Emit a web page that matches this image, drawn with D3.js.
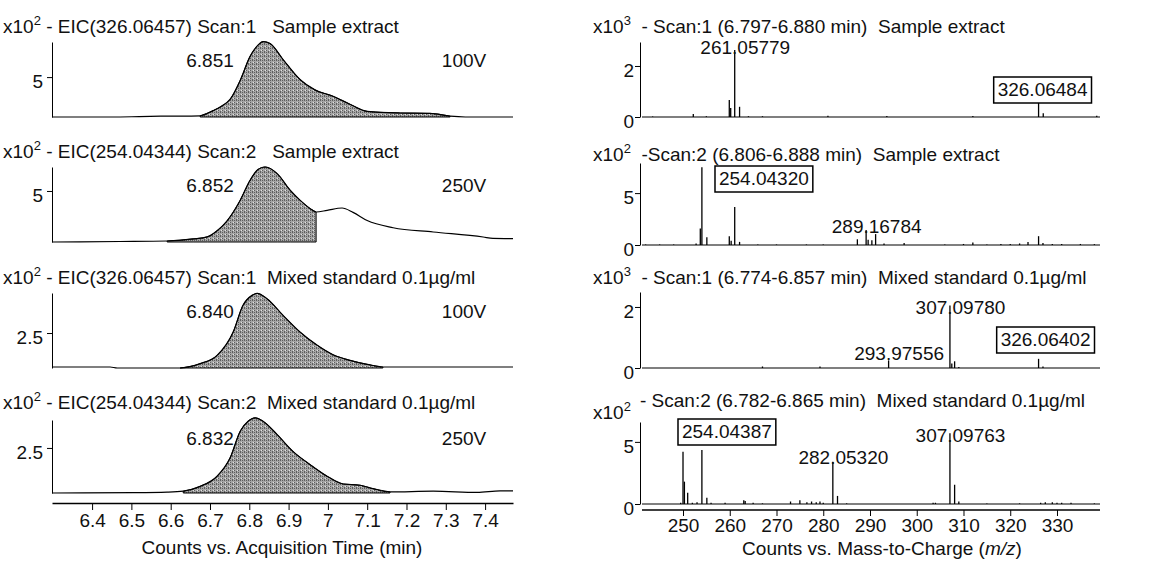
<!DOCTYPE html>
<html>
<head>
<meta charset="utf-8">
<script src="https://cdn.jsdelivr.net/npm/d3@7.9.0/dist/d3.min.js"></script>
<style>
  body { margin: 0; background: #fff; }
  svg text { font-family: "Liberation Sans", Arial, sans-serif; font-size: 19px; fill: #111; white-space: pre; }
</style>
</head>
<body>
<div id="chart"></div>
<script>
// ---- data ----
// EIC traces (counts x10^2) vs acquisition time (min)
const timeTicks = [6.4, 6.5, 6.6, 6.7, 6.8, 6.9, 7.0, 7.1, 7.2, 7.3, 7.4];

const eic1Time = [6.298, 6.45, 6.52, 6.575, 6.675, 6.708, 6.731, 6.751, 6.777, 6.802, 6.822, 6.835, 6.853, 6.886, 6.929, 6.967, 7.013, 7.056, 7.100, 7.184, 7.260, 7.311, 7.35, 7.471];
const eic1Counts = [0, 0, 0.05, 0.1, 0.15, 0.8, 1.4, 2.2, 4.6, 7.6, 9.0, 9.45, 9.2, 7.2, 4.7, 3.4, 2.6, 1.6, 0.7, 0.5, 0.45, 0.1, 0, 0];

const eic2Time = [6.298, 6.471, 6.591, 6.657, 6.693, 6.718, 6.744, 6.777, 6.802, 6.822, 6.840, 6.871, 6.904, 6.929, 6.955, 6.970, 6.998, 7.036, 7.064, 7.100, 7.166, 7.268, 7.395, 7.420, 7.471];
const eic2Counts = [0, 0.05, 0.1, 0.3, 0.5, 1.1, 2.1, 4.1, 6.05, 7.1, 7.35, 6.7, 5.07, 4.1, 3.27, 2.94, 3.1, 3.33, 2.9, 2.1, 1.4, 0.98, 0.49, 0.35, 0.33];

const eic3Time = [6.298, 6.446, 6.464, 6.624, 6.675, 6.718, 6.759, 6.784, 6.807, 6.820, 6.845, 6.886, 6.929, 6.973, 7.013, 7.056, 7.100, 7.140, 7.471];
const eic3Counts = [0.07, 0.07, 0, 0, 0.31, 0.9, 2.57, 4.48, 5.19, 5.33, 4.95, 3.76, 2.57, 1.62, 0.95, 0.55, 0.26, 0.07, 0.07];

const eic4Time = [6.298, 6.504, 6.591, 6.632, 6.675, 6.718, 6.751, 6.777, 6.797, 6.815, 6.835, 6.871, 6.911, 6.955, 6.998, 7.039, 7.082, 7.115, 7.158, 7.268, 7.380, 7.438, 7.471];
const eic4Counts = [0, 0.02, 0.05, 0.1, 0.37, 0.93, 1.94, 3.43, 3.98, 4.17, 3.98, 3.24, 2.31, 1.57, 0.93, 0.5, 0.43, 0.24, 0.06, 0.1, 0.03, 0.12, 0.12];

// integration window (shaded) per EIC
const fillStart = [6.675, 6.591, 6.624, 6.632];
const fillEnd = [7.311, 6.970, 7.140, 7.158];

const eicTitles = [
  " - EIC(326.06457) Scan:1   Sample extract",
  " - EIC(254.04344) Scan:2   Sample extract",
  " - EIC(326.06457) Scan:1  Mixed standard 0.1\u00b5g/ml",
  " - EIC(254.04344) Scan:2  Mixed standard 0.1\u00b5g/ml",
];
const eicRT = ["6.851", "6.852", "6.840", "6.832"];
const eicVoltage = ["100V", "250V", "100V", "250V"];
const eicTick = [5, 5, 2.5, 2.5];

// mass spectra (counts x10^3 or x10^2) vs m/z
const mzTicks = [250, 260, 270, 280, 290, 300, 310, 320, 330];

const ms1Mz = [243.5, 252.2, 255.0, 259.9, 260.2, 261.06, 262.1, 264.0, 267.0, 281.0, 293.6, 312.0, 326.06, 327.06, 338.5];
const ms1Int = [0.02, 0.12, 0.03, 0.67, 0.35, 2.63, 0.4, 0.03, 0.03, 0.05, 0.04, 0.04, 0.98, 0.15, 0.05];

const ms2Mz = [242, 245, 248, 252.8, 253.7, 254.04, 255.1, 259.9, 260.3, 261.06, 262.1, 266, 270, 276.4, 280, 287.3, 289.17, 289.6, 290.4, 291.2, 293, 297.3, 306, 310, 312, 315, 318, 320, 322, 323.8, 326.06, 327, 329, 331, 335, 338];
const ms2Int = [0.05, 0.05, 0.05, 0.15, 1.6, 7.5, 0.75, 0.85, 0.4, 3.65, 0.3, 0.05, 0.05, 0.05, 0.05, 0.55, 1.45, 0.5, 0.45, 1.05, 0.15, 0.2, 0.05, 0.1, 0.25, 0.05, 0.1, 0.1, 0.15, 0.3, 0.85, 0.2, 0.1, 0.1, 0.1, 0.08];

const ms3Mz = [267, 279.3, 293.98, 307.1, 307.5, 308.1, 309, 326.06, 327];
const ms3Int = [0.05, 0.05, 0.25, 2.05, 0.15, 0.22, 0.03, 0.3, 0.05];

const ms4Mz = [249.5, 250.0, 250.3, 251.0, 252, 253, 254.04, 255.1, 256, 259, 263, 263.3, 265, 267, 273, 275, 276.5, 277.5, 278.5, 279.3, 280, 282.05, 283.05, 285, 303.5, 304, 307.1, 308.1, 309, 315, 322, 326.5, 327.5, 329, 330, 331, 333, 338];
const ms4Int = [0.1, 4.2, 1.8, 0.9, 0.1, 0.15, 4.35, 0.5, 0.1, 0.1, 0.3, 0.25, 0.1, 0.05, 0.2, 0.3, 0.15, 0.2, 0.15, 0.2, 0.1, 3.4, 0.65, 0.05, 0.1, 0.1, 5.7, 1.55, 0.2, 0.05, 0.05, 0.1, 0.15, 0.15, 0.1, 0.1, 0.1, 0.05];

const msTitles = [
  "  - Scan:1 (6.797-6.880 min)  Sample extract",
  "  -Scan:2 (6.806-6.888 min)  Sample extract",
  "  - Scan:1 (6.774-6.857 min)  Mixed standard 0.1\u00b5g/ml",
  "- Scan:2 (6.782-6.865 min)  Mixed standard 0.1\u00b5g/ml",
];
const msExp = ["3", "2", "3", "2"];
const msTicks = [[0, 2], [0, 5], [0, 2], [0, 5]];
const ms1Labels = ["261.05779", "326.06484"];
const ms2Labels = ["254.04320", "289.16784"];
const ms3Labels = ["307.09780", "293.97556", "326.06402"];
const ms4Labels = ["254.04387", "282.05320", "307.09763"];
const boxedLabels = ["326.06484", "254.04320", "326.06402", "254.04387"];

// ---- layout ----
const width = 1160, height = 564;
const svg = d3.select("#chart").append("svg")
  .attr("width", width).attr("height", height);

const defs = svg.append("defs");
const pat = defs.append("pattern").attr("id", "shade")
  .attr("width", 4).attr("height", 4).attr("patternUnits", "userSpaceOnUse");
pat.append("rect").attr("width", 4).attr("height", 4).attr("fill", "#a6a6a6");
[[0, 0], [2, 2], [2, 0], [0, 3]].forEach(([x, y]) =>
  pat.append("rect").attr("x", x).attr("y", y).attr("width", 1).attr("height", 1).attr("fill", "#5e5e5e"));
pat.append("rect").attr("x", 1).attr("y", 2).attr("width", 1).attr("height", 1).attr("fill", "#e2e2e2");

// panel geometry: baseline pixel and axis maximum (value at top of y axis)
const eicPanels = [
  { base: 117, top: 42, max: 9.4 },
  { base: 242, top: 167, max: 7.35 },
  { base: 368, top: 293, max: 5.36 },
  { base: 493, top: 420, max: 4.05 },
];
const msPanels = [
  { base: 117, top: 42, max: 2.94 },
  { base: 245, top: 163, max: 7.9 },
  { base: 368, top: 292, max: 2.49 },
  { base: 504, top: 422, max: 6.6 },
];

const xTime = d3.scaleLinear().domain([6.298, 7.471]).range([52, 513]);
const xMz = d3.scaleLinear().domain([240.8, 339.2]).range([640, 1100]);

function title(x, y, exp, rest) {
  const t = svg.append("text").attr("x", x).attr("y", y);
  t.append("tspan").text("x10");
  t.append("tspan").attr("dy", -8).style("font-size", "13px").text(exp);
  t.append("tspan").attr("dy", 8).text(rest);
}

function yAxis(g, y, x, ticks, pad) {
  const axis = d3.axisLeft(y).tickValues(ticks).tickSize(5).tickSizeOuter(0).tickPadding(pad)
    .tickFormat(d3.format("~g"));
  const a = g.append("g").attr("transform", `translate(${x},0)`).call(axis);
  a.select(".domain").attr("stroke", "#000");
  a.selectAll(".tick line").attr("stroke", "#000");
  a.selectAll(".tick text").attr("dy", "0.55em").style("font-size", "19px").attr("fill", "#111");
}

// ---- EIC panels (left) ----
const eicTimes = [eic1Time, eic2Time, eic3Time, eic4Time];
const eicCounts = [eic1Counts, eic2Counts, eic3Counts, eic4Counts];

eicPanels.forEach((p, i) => {
  const g = svg.append("g");
  const y = d3.scaleLinear().domain([0, p.max]).range([p.base, p.top]);
  const pts = eicTimes[i].map((t, k) => [t, eicCounts[i][k]]);
  const inWin = pts.filter(d => d[0] >= fillStart[i] && d[0] <= fillEnd[i]);

  g.append("path").datum(inWin)
    .attr("d", d3.area().x(d => xTime(d[0])).y0(p.base).y1(d => y(d[1])).curve(d3.curveMonotoneX))
    .attr("fill", "url(#shade)").attr("stroke", "#000").attr("stroke-width", 1);

  g.append("path").datum(pts)
    .attr("d", d3.line().x(d => xTime(d[0])).y(d => y(d[1])).curve(d3.curveMonotoneX))
    .attr("fill", "none").attr("stroke", "#000").attr("stroke-width", 1.2);

  yAxis(g, y, 52, [eicTick[i]], 4);

  title(3, p.base - 84, "2", eicTitles[i]);
  g.append("text").attr("x", 210).attr("y", y(p.max) + 25).attr("text-anchor", "middle").text(eicRT[i]);
  g.append("text").attr("x", 464).attr("y", y(p.max) + 25).attr("text-anchor", "middle").text(eicVoltage[i]);
});

// bottom time axis
const xa = svg.append("g").attr("transform", "translate(0,503)")
  .call(d3.axisBottom(xTime).tickValues(timeTicks).tickSize(7).tickSizeOuter(0).tickPadding(4)
    .tickFormat(d => d3.format("~g")(+d.toFixed(1))));
xa.select(".domain").attr("stroke", "#000").attr("stroke-width", 1.5);
xa.selectAll(".tick line").attr("stroke", "#000");
xa.selectAll(".tick text").style("font-size", "19px").attr("fill", "#111");
svg.append("text").attr("x", 282).attr("y", 554).attr("text-anchor", "middle")
  .text("Counts vs. Acquisition Time (min)");

// ---- mass spectra (right) ----
const msMz = [ms1Mz, ms2Mz, ms3Mz, ms4Mz];
const msInt = [ms1Int, ms2Int, ms3Int, ms4Int];
const msLabels = [ms1Labels, ms2Labels, ms3Labels, ms4Labels];
// label placement: baseline y and horizontal shift for boxed labels
const labelPlace = {
  "261.05779": { y: 54 },
  "326.06484": { y: 96, dx: 4 },
  "254.04320": { y: 185, dx: 62 },
  "289.16784": { y: 233 },
  "307.09780": { y: 314 },
  "293.97556": { y: 360 },
  "326.06402": { y: 346, dx: 7 },
  "254.04387": { y: 438, dx: 25 },
  "282.05320": { y: 464 },
  "307.09763": { y: 442 },
};

msPanels.forEach((p, i) => {
  const g = svg.append("g");
  const y = d3.scaleLinear().domain([0, p.max]).range([p.base, p.top]);
  const peaks = msMz[i].map((m, k) => ({ mz: m, v: msInt[i][k] }));

  g.append("line").attr("x1", 642).attr("x2", 1100).attr("y1", p.base).attr("y2", p.base)
    .attr("stroke", "#000").attr("stroke-width", 1.2);
  g.selectAll("line.peak").data(peaks).join("line").attr("class", "peak")
    .attr("x1", d => xMz(d.mz)).attr("x2", d => xMz(d.mz))
    .attr("y1", p.base).attr("y2", d => y(d.v))
    .attr("stroke", "#000").attr("stroke-width", 1.3);

  yAxis(g, y, 640, msTicks[i], 1);

  if (i === 3) {
    title(593, 419, msExp[i], "");
    svg.append("text").attr("x", 640).attr("y", 407).text(msTitles[i]);
  } else {
    title(593, p.base - 84, msExp[i], msTitles[i]);
  }

  msLabels[i].forEach(lbl => {
    const mz = parseFloat(lbl);
    const pl = labelPlace[lbl];
    const px = xMz(mz);
    if (boxedLabels.includes(lbl)) {
      const rect = g.append("rect");
      const t = g.append("text").attr("x", px + pl.dx).attr("y", pl.y).attr("text-anchor", "middle").text(lbl);
      const w = t.node().getComputedTextLength();
      rect.attr("x", px + pl.dx - w / 2 - 4).attr("y", pl.y - 19)
        .attr("width", w + 8).attr("height", 26).attr("fill", "#fff")
        .attr("stroke", "#000").attr("stroke-width", 1.5);
    } else {
      // the peak stick runs through the decimal point
      const t = g.append("text").attr("y", pl.y).text(lbl);
      const cut = lbl.indexOf(".");
      const lead = t.node().getSubStringLength(0, cut) + t.node().getSubStringLength(cut, 1) / 2;
      t.attr("x", px - lead);
    }
  });
});

// bottom m/z axis
const ma = svg.append("g").attr("transform", "translate(0,510)")
  .call(d3.axisBottom(xMz).tickValues(mzTicks).tickSize(6).tickSizeOuter(0).tickPadding(3));
ma.select(".domain").attr("stroke", "#000").attr("stroke-width", 1.5).attr("d", "M642,0H1100");
ma.selectAll(".tick line").attr("stroke", "#000");
ma.selectAll(".tick text").style("font-size", "19px").attr("fill", "#111");
const mt = svg.append("text").attr("x", 882).attr("y", 555).attr("text-anchor", "middle");
mt.append("tspan").text("Counts vs. Mass-to-Charge (");
mt.append("tspan").style("font-style", "italic").text("m/z");
mt.append("tspan").text(")");
</script>
</body>
</html>
